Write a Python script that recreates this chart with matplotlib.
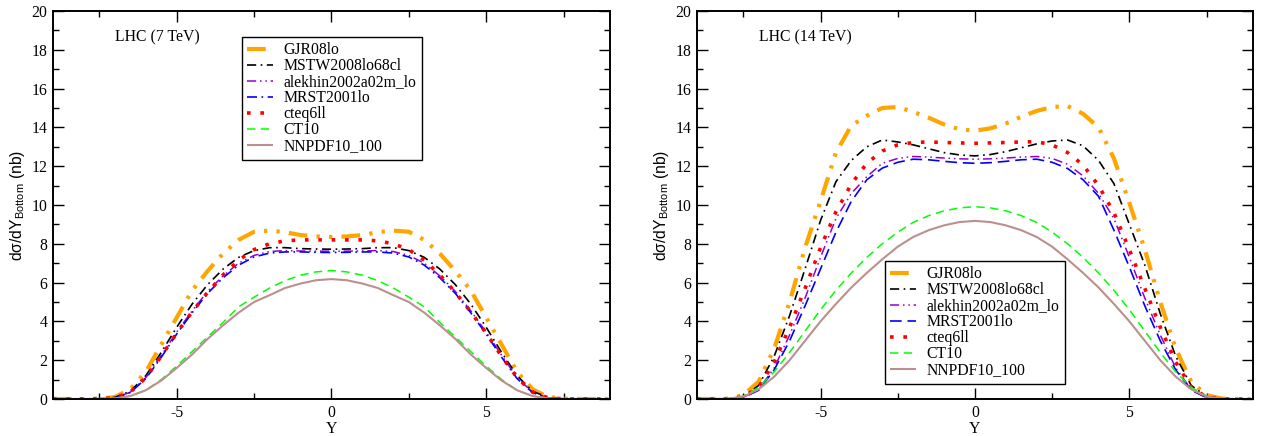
import numpy as np
import matplotlib
matplotlib.use("Agg")
import matplotlib.pyplot as plt

plt.rcParams['font.family'] = ['Liberation Serif', 'DejaVu Serif']
plt.rcParams['axes.unicode_minus'] = False

# rapidity grid (-9 .. 9, step 0.5)
Y = np.arange(-9, 9.01, 0.5)

pdf_names = ["GJR08lo", "MSTW2008lo68cl", "alekhin2002a02m_lo", "MRST2001lo",
             "cteq6ll", "CT10", "NNPDF10_100"]

# LHC 7 TeV, dsigma/dY (nb)
gjr_7 = [0, 0, 0, 0.02, 0.1, 0.5, 1.4, 2.8, 4.2, 5.6, 6.6, 7.5, 8.2, 8.62, 8.68, 8.6, 8.45, 8.38,
         8.35,
         8.38, 8.45, 8.6, 8.68, 8.62, 8.2, 7.5, 6.6, 5.6, 4.2, 2.8, 1.4, 0.5, 0.1, 0.02, 0, 0, 0]
mstw_7 = [0, 0, 0, 0.01, 0.08, 0.4, 1.2, 2.4, 3.7, 4.9, 5.9, 6.7, 7.3, 7.65, 7.8, 7.8, 7.75, 7.73,
          7.72,
          7.73, 7.75, 7.8, 7.8, 7.65, 7.3, 6.7, 5.9, 4.9, 3.7, 2.4, 1.2, 0.4, 0.08, 0.01, 0, 0, 0]
alekhin_7 = [0, 0, 0, 0.01, 0.05, 0.35, 1.1, 2.25, 3.45, 4.55, 5.55, 6.35, 7.0, 7.4, 7.6, 7.65, 7.63, 7.62,
             7.62,
             7.62, 7.63, 7.65, 7.6, 7.4, 7.0, 6.35, 5.55, 4.55, 3.45, 2.25, 1.1, 0.35, 0.05, 0.01, 0, 0, 0]
mrst_7 = [0, 0, 0, 0.01, 0.05, 0.33, 1.05, 2.15, 3.35, 4.45, 5.45, 6.25, 6.9, 7.32, 7.52, 7.58, 7.58, 7.56,
          7.55,
          7.56, 7.58, 7.58, 7.52, 7.32, 6.9, 6.25, 5.45, 4.45, 3.35, 2.15, 1.05, 0.33, 0.05, 0.01, 0, 0, 0]
cteq_7 = [0, 0, 0, 0.01, 0.06, 0.35, 1.1, 2.2, 3.4, 4.5, 5.5, 6.4, 7.15, 7.7, 8.0, 8.15, 8.2, 8.2,
          8.2,
          8.2, 8.2, 8.15, 8.0, 7.7, 7.15, 6.4, 5.5, 4.5, 3.4, 2.2, 1.1, 0.35, 0.06, 0.01, 0, 0, 0]
ct10_7 = [0, 0, 0, 0.01, 0.03, 0.15, 0.45, 1.0, 1.7, 2.45, 3.2, 3.95, 4.75, 5.25, 5.72, 6.1, 6.38, 6.55,
          6.62,
          6.55, 6.38, 6.1, 5.72, 5.25, 4.75, 3.95, 3.2, 2.45, 1.7, 1.0, 0.45, 0.15, 0.03, 0.01, 0, 0, 0]
nnpdf_7 = [0, 0, 0, 0.01, 0.03, 0.15, 0.45, 0.95, 1.6, 2.3, 3.1, 3.8, 4.45, 5.0, 5.35, 5.72, 5.95, 6.12,
           6.18,
           6.12, 5.95, 5.72, 5.35, 5.0, 4.45, 3.8, 3.1, 2.3, 1.6, 0.95, 0.45, 0.15, 0.03, 0.01, 0, 0, 0]

# LHC 14 TeV
gjr_14 = [0, 0, 0.02, 0.2, 0.9, 2.6, 5.0, 7.8, 10.2, 12.7, 14.1, 14.6, 15.0, 15.05, 14.8, 14.5, 14.15, 13.9,
          13.83,
          13.95, 14.2, 14.55, 14.85, 15.05, 15.1, 14.7, 14.0, 12.4, 10.1, 7.7, 5.0, 2.6, 0.9, 0.2, 0.02, 0, 0]
mstw_14 = [0, 0, 0.01, 0.12, 0.7, 2.2, 4.3, 6.7, 9.2, 11.2, 12.3, 13.0, 13.35, 13.25, 13.1, 12.9, 12.7, 12.58,
           12.53,
           12.6, 12.75, 12.95, 13.15, 13.3, 13.35, 13.05, 12.3, 11.1, 9.0, 6.9, 4.4, 2.2, 0.7, 0.12, 0.01, 0, 0]
alekhin_14 = [0, 0, 0.01, 0.08, 0.5, 1.6, 3.3, 5.2, 7.3, 9.3, 10.6, 11.46, 12.15, 12.4, 12.5, 12.47, 12.42, 12.38,
              12.36,
              12.38, 12.42, 12.47, 12.5, 12.4, 12.1, 11.5, 10.6, 9.3, 7.3, 5.2, 3.3, 1.6, 0.5, 0.08, 0.01, 0, 0]
mrst_14 = [0, 0, 0.01, 0.07, 0.45, 1.5, 3.0, 4.8, 6.7, 8.6, 10.2, 11.3, 11.9, 12.2, 12.36, 12.33, 12.25, 12.18,
           12.15,
           12.18, 12.25, 12.33, 12.36, 12.2, 11.88, 11.3, 10.45, 8.7, 6.8, 4.8, 3.0, 1.5, 0.45, 0.07, 0.01, 0, 0]
cteq_14 = [0, 0, 0.01, 0.1, 0.6, 1.9, 3.7, 5.7, 7.8, 9.65, 11.08, 12.15, 12.78, 13.1, 13.22, 13.25, 13.22, 13.2,
           13.18,
           13.2, 13.22, 13.25, 13.26, 13.1, 12.7, 12.06, 11.0, 9.6, 7.7, 5.7, 3.7, 1.9, 0.6, 0.1, 0.01, 0, 0]
ct10_14 = [0, 0, 0.02, 0.15, 0.6, 1.4, 2.4, 3.5, 4.6, 5.6, 6.5, 7.3, 8.0, 8.6, 9.1, 9.45, 9.7, 9.85,
           9.91,
           9.85, 9.7, 9.45, 9.1, 8.6, 8.0, 7.3, 6.5, 5.6, 4.6, 3.5, 2.4, 1.4, 0.6, 0.15, 0.02, 0, 0]
nnpdf_14 = [0, 0, 0.02, 0.12, 0.5, 1.15, 2.0, 3.0, 4.0, 4.9, 5.75, 6.5, 7.2, 7.85, 8.35, 8.7, 8.95, 9.12,
            9.18,
            9.12, 8.95, 8.7, 8.35, 7.85, 7.2, 6.5, 5.75, 4.9, 4.0, 3.0, 2.0, 1.15, 0.5, 0.12, 0.02, 0, 0]

colors = ['#ffa500', 'black', '#9400d3', 'blue', 'red', '#00ff00', '#bc8f8f']
widths = [3.0, 1.2, 1.1, 1.2, 2.6, 1.1, 1.5]
styles_7 = [(0, (4.5, 2.2, 0.8, 2.2, 0.8, 2.2)), (0, (5.5, 2.7, 1, 2.7)), (0, (6, 2.5, 1, 2.5, 1, 2.5)),
            (0, (6, 2.7, 1, 2.7)), (0, (1, 2.7)), (0, (5.5, 3.5)), '-']
styles_14 = list(styles_7)
styles_14[3] = (0, (7, 3.5))

fig = plt.figure(figsize=(12.61, 4.36), dpi=100)
ax1 = fig.add_axes([0.0420, 0.0849, 0.4417, 0.8899])
ax2 = fig.add_axes([0.5527, 0.0849, 0.4409, 0.8899])

fs = 11.3


def draw(ax, curves, styles, label, leg_anchor):
    for name, yv, c, lw, ls in zip(pdf_names, curves, colors, widths, styles):
        ax.plot(Y, yv, color=c, lw=lw, linestyle=ls, label=name,
                dash_capstyle='butt', solid_capstyle='butt')
    ax.set_xlim(-9, 9)
    ax.set_ylim(0, 20)
    ax.set_xticks([-5, 0, 5])
    ax.set_xticks([-7.5, -2.5, 2.5, 7.5], minor=True)
    ax.set_yticks(np.arange(0, 21, 2))
    ax.set_yticks(np.arange(1, 20, 2), minor=True)
    ax.tick_params(which='both', direction='in', top=True, right=True, labelsize=fs, width=1)
    ax.tick_params(which='major', length=8, pad=4)
    ax.tick_params(which='minor', length=4.5)
    for s in ax.spines.values():
        s.set_linewidth(1.4)
    ax.set_xlabel('Y', fontsize=fs, labelpad=0)
    ax.set_ylabel('d\u03c3/dY$_{\\mathregular{Bottom}}$ (nb)', fontsize=fs,
                  family=['Liberation Sans', 'DejaVu Sans'], labelpad=3)
    ax.text(-7.0, 18.66, label, fontsize=fs, va='center', ha='left')
    leg = ax.legend(loc='upper left', bbox_to_anchor=leg_anchor, bbox_transform=fig.transFigure,
                    fontsize=fs, handlelength=1.6, labelspacing=0.0, borderpad=0.35,
                    handletextpad=0.7, borderaxespad=0, fancybox=False, framealpha=1,
                    edgecolor='black')
    leg.get_frame().set_linewidth(1.0)


draw(ax1, [gjr_7, mstw_7, alekhin_7, mrst_7, cteq_7, ct10_7, nnpdf_7], styles_7,
     'LHC (7 TeV)', (242 / 1261, 1 - 37 / 436))
draw(ax2, [gjr_14, mstw_14, alekhin_14, mrst_14, cteq_14, ct10_14, nnpdf_14], styles_14,
     'LHC (14 TeV)', (885 / 1261, 1 - 261 / 436))

fig.savefig('out.png', dpi=100)
